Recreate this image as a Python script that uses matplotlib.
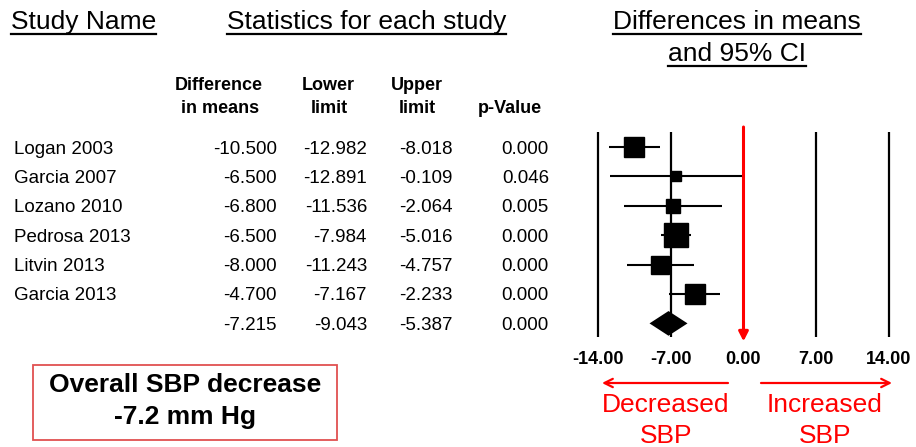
import matplotlib
matplotlib.use("Agg")
import matplotlib.pyplot as plt
from matplotlib import transforms
from matplotlib.lines import Line2D
from matplotlib.patches import Rectangle

plt.rcParams['font.family'] = ['Liberation Sans', 'DejaVu Sans']

# ---- data ----
studies = ["Logan 2003", "Garcia 2007", "Lozano 2010", "Pedrosa 2013",
           "Litvin 2013", "Garcia 2013"]
diff_means = [-10.500, -6.500, -6.800, -6.500, -8.000, -4.700]
lower_limits = [-12.982, -12.891, -11.536, -7.984, -11.243, -7.167]
upper_limits = [-8.018, -0.109, -2.064, -5.016, -4.757, -2.233]
p_values = [0.000, 0.046, 0.005, 0.000, 0.000, 0.000]
pooled_mean = -7.215
pooled_lower = -9.043
pooled_upper = -5.387
pooled_p = 0.000
x_ticks = [-14.0, -7.0, 0.0, 7.0, 14.0]

# marker size (points) per study, proportional to weight
marker_sizes = [14.5, 7.5, 10.0, 17.0, 13.5, 14.5]

W, H = 916, 447
fig = plt.figure(figsize=(W / 100, H / 100), dpi=100)


def fx(px):
    return px / W


def fy(py):
    return 1 - py / H


# ---- forest panel ----
ax = fig.add_axes([fx(560), fy(345), fx(916) - fx(560), fy(120) - fy(345)])
unit = (889 - 598) / 28.0
zero_px = 743.5
ax.set_xlim((560 - zero_px) / unit, (916 - zero_px) / unit)
row_px = 29.4
ax.set_ylim((345 - 147) / row_px, (120 - 147) / row_px)
for s in ax.spines.values():
    s.set_visible(False)
ax.set_yticks([])
ax.set_xticks(x_ticks)
ax.set_xticklabels([f"{t:.2f}" for t in x_ticks], fontsize=13, fontweight='bold')
ax.tick_params(axis='x', length=0, pad=4)
ax.patch.set_alpha(0)

n = len(studies)
pooled_row = n

# reference lines
ref_top, ref_bot = -0.5, 6.47
ax.vlines([t for t in x_ticks if t != 0], ref_top, ref_bot, color='black', lw=1.6)

# study estimates
for i in range(n):
    ax.hlines(i, lower_limits[i], upper_limits[i], color='black', lw=1.5)
    ax.plot(diff_means[i], i, marker='s', color='black',
            markersize=marker_sizes[i], linestyle='none')

# pooled diamond
h = 0.42
ax.fill([pooled_lower, pooled_mean, pooled_upper, pooled_mean],
        [pooled_row, pooled_row - h, pooled_row, pooled_row + h],
        color='black', lw=0)

# line of no effect
ax.annotate("", xy=(0, 6.61), xytext=(0, -0.68),
            arrowprops=dict(arrowstyle='-|>,head_length=0.55,head_width=0.28',
                            color='#ff0000', lw=2.2, shrinkA=0, shrinkB=0),
            annotation_clip=False)

# direction arrows below axis
arrow_tr = transforms.blended_transform_factory(ax.transData, fig.transFigure)
yarr = fy(383)
for x_from, x_to in [(728, 602), (761, 892)]:
    ax.annotate("", xy=((x_to - zero_px) / unit, yarr), xycoords=arrow_tr,
                xytext=((x_from - zero_px) / unit, yarr), textcoords=arrow_tr,
                arrowprops=dict(arrowstyle='->,head_length=0.6,head_width=0.3',
                                color='#ff0000', lw=1.6, shrinkA=0, shrinkB=0),
                annotation_clip=False)
for word, xc in [("Decreased", 666), ("Increased", 825)]:
    fig.text(fx(xc), fy(412), word, ha='center', va='baseline', fontsize=19,
             color='#ff0000')
    fig.text(fx(xc), fy(443), "SBP", ha='center', va='baseline', fontsize=19,
             color='#ff0000')

# ---- table ----
row_tr = transforms.blended_transform_factory(fig.transFigure, ax.transData)
base_off = 6.5 / row_px
fs_row = 13.5
for i in range(n):
    yb = i + base_off
    fig.text(fx(14), yb, studies[i], transform=row_tr, ha='left',
             va='baseline', fontsize=fs_row)
rows_vals = list(zip(diff_means, lower_limits, upper_limits, p_values))
rows_vals.append((pooled_mean, pooled_lower, pooled_upper, pooled_p))
col_right = [277, 367, 453, 549]
for i, vals in enumerate(rows_vals):
    yb = i + base_off
    for xr, v in zip(col_right, vals):
        fig.text(fx(xr), yb, f"{v:.3f}", transform=row_tr, ha='right',
                 va='baseline', fontsize=fs_row)

# column sub-headers
sub = [("Difference", 219, 90), ("in means", 220, 113),
       ("Lower", 328, 90), ("limit", 329, 113),
       ("Upper", 417, 90), ("limit", 417, 113),
       ("p-Value", 510, 113)]
for txt, xc, yb in sub:
    fig.text(fx(xc), fy(yb), txt, ha='center', va='baseline', fontsize=13,
             fontweight='bold')

# underlined section headers
headers = [("Study Name", 11, 29, 'left'),
           ("Statistics for each study", 227, 29, 'left'),
           ("Differences in means", 737, 29, 'center'),
           ("and 95% CI", 737, 61, 'center')]
htexts = []
for txt, x, yb, ha in headers:
    t = fig.text(fx(x), fy(yb), txt, ha=ha, va='baseline', fontsize=19)
    htexts.append((t, yb))

# summary box
fig.patches.append(Rectangle((fx(33), fy(440)), fx(337) - fx(33), fy(365) - fy(440),
                             transform=fig.transFigure, fill=False,
                             edgecolor='#e05050', lw=1.3))
fig.text(fx(185), fy(385), "Overall SBP decrease", ha='center', va='center',
         fontsize=19, fontweight='bold')
fig.text(fx(185), fy(417), "-7.2 mm Hg", ha='center', va='center',
         fontsize=19, fontweight='bold')

fig.canvas.draw()
renderer = fig.canvas.get_renderer()
for t, yb in htexts:
    bb = t.get_window_extent(renderer)
    fig.lines.append(Line2D([bb.x0 / W, bb.x1 / W], [fy(yb + 4.5), fy(yb + 4.5)],
                            transform=fig.transFigure, color='black', lw=1.6))

fig.savefig("out.png", dpi=100)
